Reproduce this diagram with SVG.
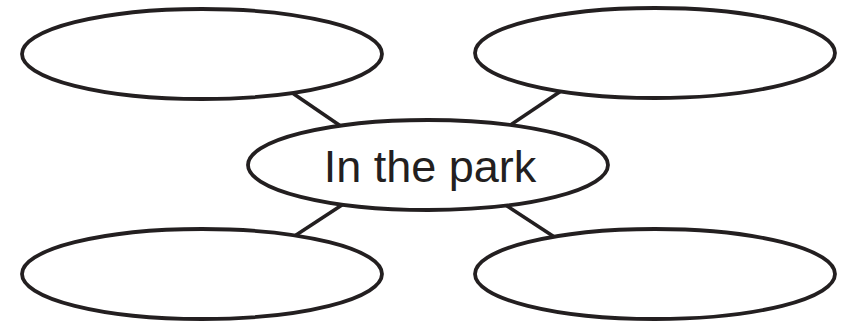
<svg xmlns="http://www.w3.org/2000/svg" width="844" height="321" viewBox="0 0 844 321">
<style>
.node{fill:#fff;stroke:#231f20;stroke-width:3.8}
.edge{stroke:#231f20;stroke-width:3.6;fill:none}
.label{font-family:"Liberation Sans",Arial,sans-serif;font-size:45px;fill:#231f20;text-anchor:middle}
</style>
<rect width="844" height="321" fill="#fff"/>
<g id="connectors">
<line class="edge" x1="288" y1="90" x2="345" y2="129"/>
<line class="edge" x1="564" y1="89" x2="506" y2="128"/>
<line class="edge" x1="345" y1="203" x2="290" y2="239"/>
<line class="edge" x1="504" y1="204" x2="559" y2="240"/>
</g>
<g id="node-top-left"><ellipse class="node" cx="202" cy="54" rx="180" ry="45"/></g>
<g id="node-top-right"><ellipse class="node" cx="655" cy="53" rx="180" ry="45"/></g>
<g id="node-bottom-left"><ellipse class="node" cx="202" cy="274" rx="180" ry="45"/></g>
<g id="node-bottom-right"><ellipse class="node" cx="655" cy="274" rx="180" ry="45"/></g>
<g id="node-center"><ellipse class="node" cx="428" cy="165" rx="180" ry="45"/>
<text class="label" x="430" y="182">In the park</text></g>
</svg>
